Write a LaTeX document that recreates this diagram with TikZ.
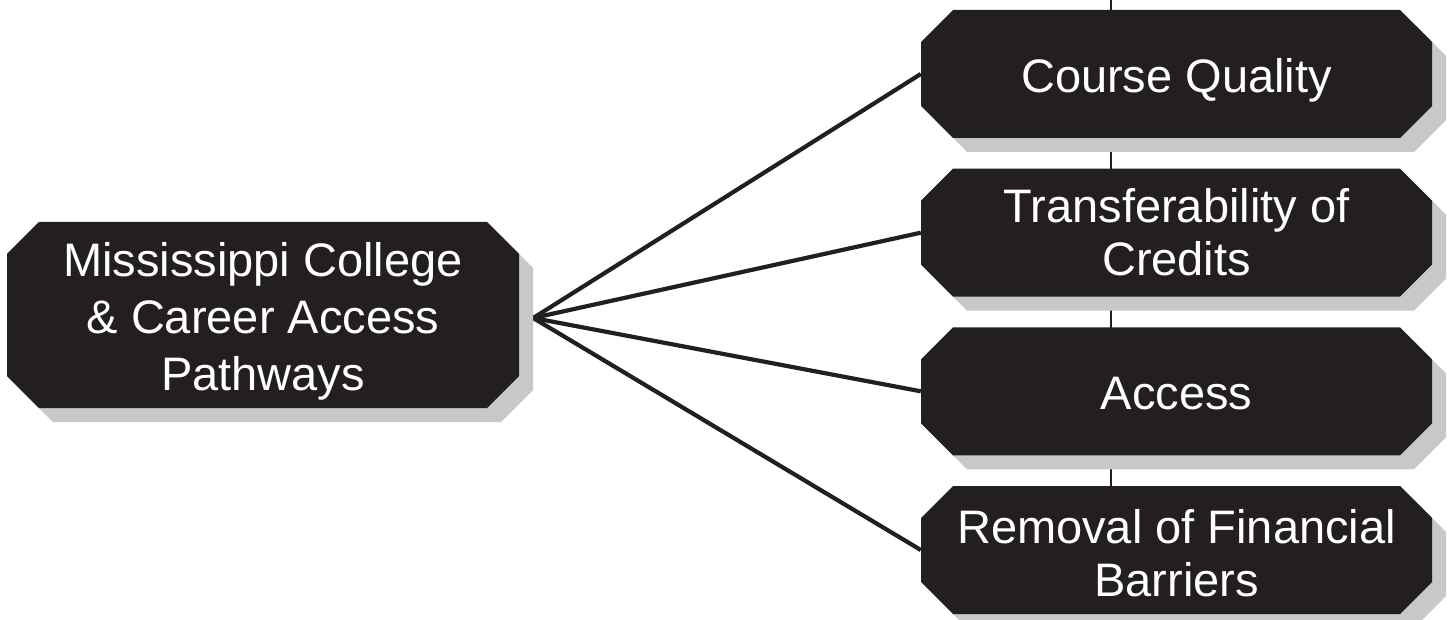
\documentclass[tikz,border=0pt]{standalone}
\usepackage{fontspec}
\setmainfont{Liberation Sans}
\usetikzlibrary{calc}
\definecolor{boxblack}{HTML}{231F20}
\definecolor{shadowgray}{HTML}{C7C8CA}
% octagon: x, y (top-left), w, h, style
\newcommand{\octbox}[5]{%
  \path[#5] (#1+32,#2) -- (#1+#3-32,#2) -- (#1+#3,#2+32) -- (#1+#3,#2+#4-32)
    -- (#1+#3-32,#2+#4) -- (#1+32,#2+#4) -- (#1,#2+#4-32) -- (#1,#2+32) -- cycle;}
\begin{document}
\begin{tikzpicture}[x=1pt,y=-1pt,
  shadowfill/.style={fill=shadowgray},
  boxfill/.style={fill=boxblack},
  txt/.style={text=white, align=center, inner sep=0pt,
    font=\fontsize{47}{53}\selectfont},
  conn/.style={draw=boxblack, line width=4.2pt},
  vline/.style={draw=boxblack, line width=2pt}]
\useasboundingbox (0,0) rectangle (1453,620);
% node placeholders (centres)
\node[txt, minimum width=512pt, minimum height=186pt] (L) at (263,315) {};
\node[txt, minimum width=511pt, minimum height=128pt] (R1) at (1176.5,74) {};
\node[txt, minimum width=511pt, minimum height=128pt] (R2) at (1176.5,232.7) {};
\node[txt, minimum width=511pt, minimum height=128pt] (R3) at (1176.5,391.3) {};
\node[txt, minimum width=511pt, minimum height=128pt] (R4) at (1176.5,550) {};
\coordinate (top) at (1111,0);
\coordinate (hub) at ($(L.east)+(14,3)$);
% vertical spine behind the boxes
\draw[vline] (top) -- (top |- R4.south);
% connectors
\draw[conn] (hub) -- (R1.west);
\draw[conn] (hub) -- (R2.west);
\draw[conn] (hub) -- (R3.west);
\draw[conn] (hub) -- (R4.west);
% shadows
\octbox{21}{236}{512}{186}{shadowfill}
\octbox{935}{24}{511}{128}{shadowfill}
\octbox{935}{182.7}{511}{128}{shadowfill}
\octbox{935}{341.3}{511}{128}{shadowfill}
\octbox{935}{500}{511}{128}{shadowfill}
% boxes
\octbox{7}{222}{512}{186}{boxfill}
\octbox{921}{10}{511}{128}{boxfill}
\octbox{921}{168.7}{511}{128}{boxfill}
\octbox{921}{327.3}{511}{128}{boxfill}
\octbox{921}{486}{511}{128}{boxfill}
% texts
\node[txt, font=\fontsize{47}{57}\selectfont] (Lt) at ($(L)+(0,6)$) {Mississippi College\\\& Career Access\\Pathways};
\node[txt] (R1t) at ($(R1)+(0,6)$) {Course Quality};
\node[txt] (R2t) at (R2) {Transferability of\\Credits};
\node[txt] (R3t) at ($(R3)+(0,2)$) {Access};
\node[txt] (R4t) at ($(R4)+(0,3)$) {Removal of Financial\\Barriers};
\end{tikzpicture}
\end{document}
